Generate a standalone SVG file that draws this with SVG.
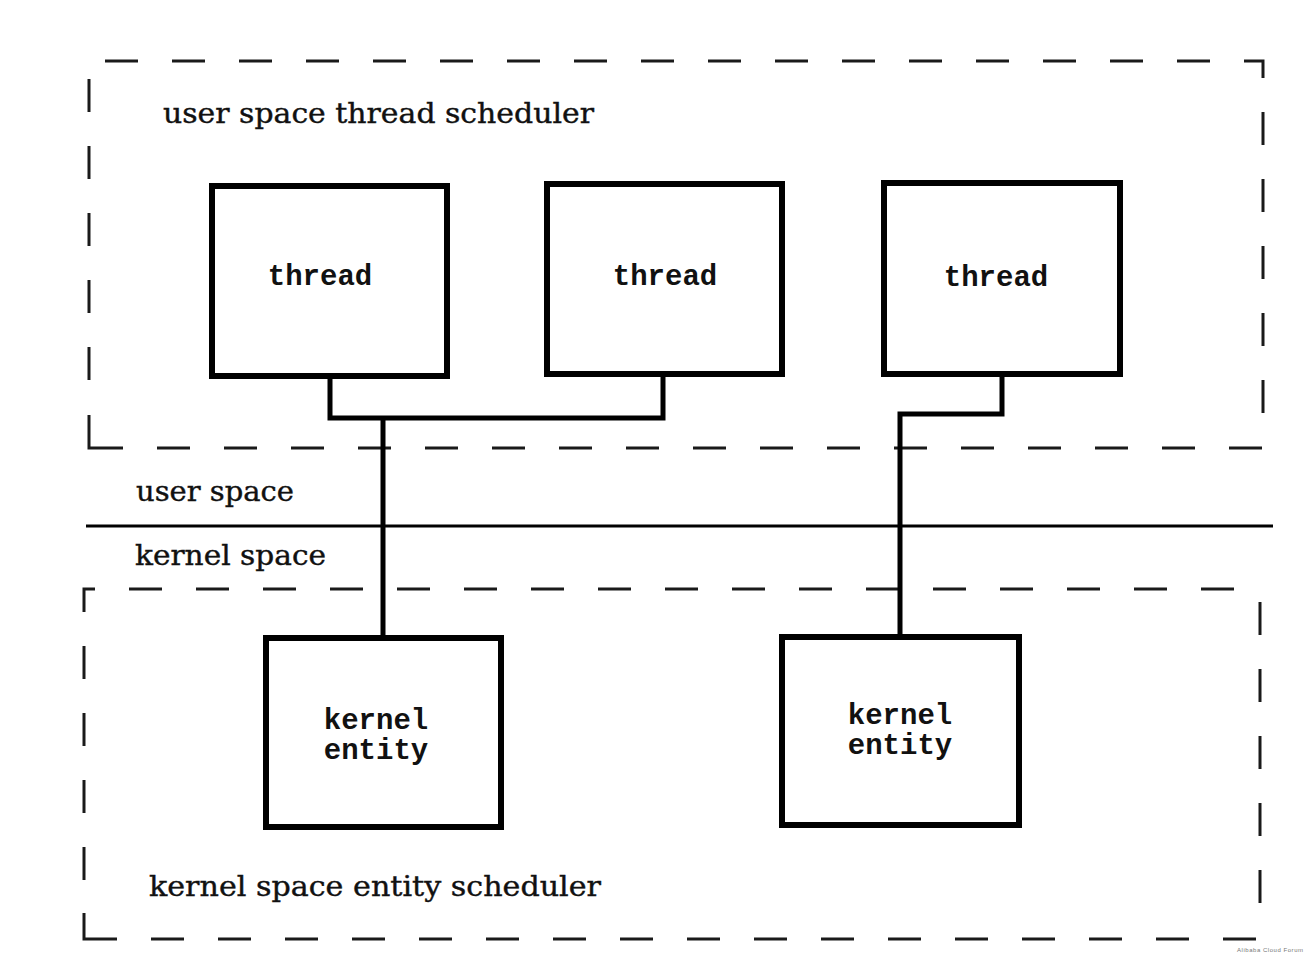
<svg xmlns="http://www.w3.org/2000/svg" width="1310" height="954" viewBox="0 0 1310 954">
<style>
.dash{fill:none;stroke:#1a1a1a;stroke-width:3;stroke-dasharray:33 34}
.corner{fill:none;stroke:#1a1a1a;stroke-width:3}
.box{fill:#fff;stroke:#000;stroke-width:6}
.conn{fill:none;stroke:#000;stroke-width:5}
.mono{font-family:"Liberation Mono","Courier New",monospace;font-weight:bold;font-size:29px;fill:#111;text-anchor:middle}
.serif{font-family:"DejaVu Serif","Liberation Serif",serif;font-size:28px;fill:#111;stroke:#111;stroke-width:0.4}
</style>
<rect width="1310" height="954" fill="#fff"/>
<g id="user-scheduler">
<path class="dash" d="M105,61 H1211"/>
<path class="corner" d="M1244,61 H1263 V78"/>
<path class="dash" d="M1263,112 V414"/>
<path class="dash" d="M157,448 H1263"/>
<path class="corner" d="M123,448 H89 V415"/>
<path class="dash" d="M89,79 V382"/>
<text class="serif" x="163" y="123" textLength="431" lengthAdjust="spacingAndGlyphs">user space thread scheduler</text>
</g>
<g id="kernel-scheduler">
<path class="corner" d="M84,612 V589 H95"/>
<path class="dash" d="M129,589 H1240"/>
<path class="dash" d="M1260,602 V904"/>
<path class="dash" d="M151,939 H1261"/>
<path class="corner" d="M117,939 H84 V913"/>
<path class="dash" d="M84,646 V881"/>
<text class="serif" x="149" y="896" textLength="452" lengthAdjust="spacingAndGlyphs">kernel space entity scheduler</text>
</g>
<g id="boundary">
<line x1="86" y1="526" x2="1273" y2="526" stroke="#000" stroke-width="3"/>
<text class="serif" x="136" y="501" textLength="158" lengthAdjust="spacingAndGlyphs">user space</text>
<text class="serif" x="135" y="565" textLength="191" lengthAdjust="spacingAndGlyphs">kernel space</text>
</g>
<g id="connectors">
<path class="conn" d="M330,377 V418 H663 V377"/>
<path class="conn" d="M383,418 V637"/>
<path class="conn" d="M1002,377 V414 H900 V636"/>
</g>
<g id="thread1">
<rect class="box" x="212" y="186" width="235" height="190"/>
<text class="mono" x="320" y="285">thread</text>
</g>
<g id="thread2">
<rect class="box" x="547" y="184" width="235" height="190"/>
<text class="mono" x="665" y="285">thread</text>
</g>
<g id="thread3">
<rect class="box" x="884" y="183" width="236" height="191"/>
<text class="mono" x="996" y="286">thread</text>
</g>
<g id="kernel-entity1">
<rect class="box" x="266" y="638" width="235" height="189"/>
<text class="mono" x="376" y="729">kernel</text>
<text class="mono" x="376" y="759">entity</text>
</g>
<g id="kernel-entity2">
<rect class="box" x="782" y="637" width="237" height="188"/>
<text class="mono" x="900" y="724">kernel</text>
<text class="mono" x="900" y="754">entity</text>
</g>
<text x="1237" y="952" font-family="Liberation Sans, Arial, sans-serif" font-size="6" fill="#777" textLength="66">Alibaba Cloud Forum</text>
</svg>
